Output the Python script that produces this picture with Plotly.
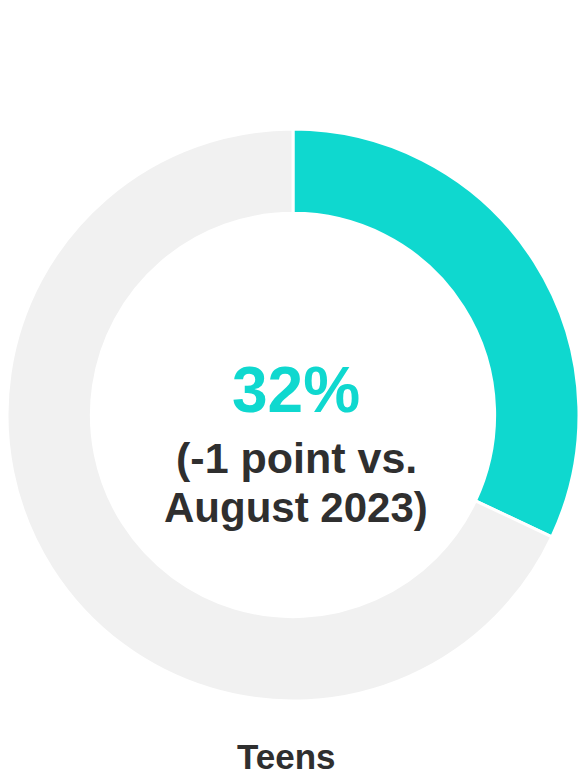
import plotly.graph_objects as go

labels = ["Teens", "Other"]
values = [32, 68]
colors = ["#0FD8CF", "#F1F1F1"]
headline = "32%"
sub_line1 = "(-1 point vs."
sub_line2 = "August 2023)"
category = "Teens"

W, H = 582, 777

def py(p):
    return 1 - p / H

fig = go.Figure(go.Pie(
    labels=labels,
    values=values,
    hole=0.705,
    sort=False,
    direction="clockwise",
    rotation=0,
    marker=dict(colors=colors, line=dict(color="white", width=3)),
    textinfo="none",
    hoverinfo="skip",
    showlegend=False,
    domain=dict(x=[7 / W, 579 / W], y=[py(701), py(129)]),
))

font = "Liberation Sans, Arial, sans-serif"
fig.add_annotation(x=296 / W, y=py(390), xref="paper", yref="paper", text=f"<b>{headline}</b>",
                   showarrow=False, font=dict(family=font, size=64, color="#0FD8CF"), yanchor="middle")
fig.add_annotation(x=296 / W, y=py(458), xref="paper", yref="paper", text=f"<b>{sub_line1}</b>",
                   showarrow=False, font=dict(family=font, size=43, color="#2F2F2F"), yanchor="middle")
fig.add_annotation(x=296 / W, y=py(507), xref="paper", yref="paper", text=f"<b>{sub_line2}</b>",
                   showarrow=False, font=dict(family=font, size=42, color="#2F2F2F"), yanchor="middle")
fig.add_annotation(x=286 / W, y=0, xref="paper", yref="paper", text=f"<b>{category}</b>",
                   showarrow=False, font=dict(family=font, size=35, color="#2F2F2F"),
                   yanchor="bottom", borderpad=0)

fig.update_layout(
    width=W, height=H,
    margin=dict(l=0, r=0, t=0, b=0),
    paper_bgcolor="white", plot_bgcolor="white",
)

fig.write_html("out.html", config={"displayModeBar": False},
               post_script="document.body.style.margin='0';document.body.style.overflow='hidden';")
